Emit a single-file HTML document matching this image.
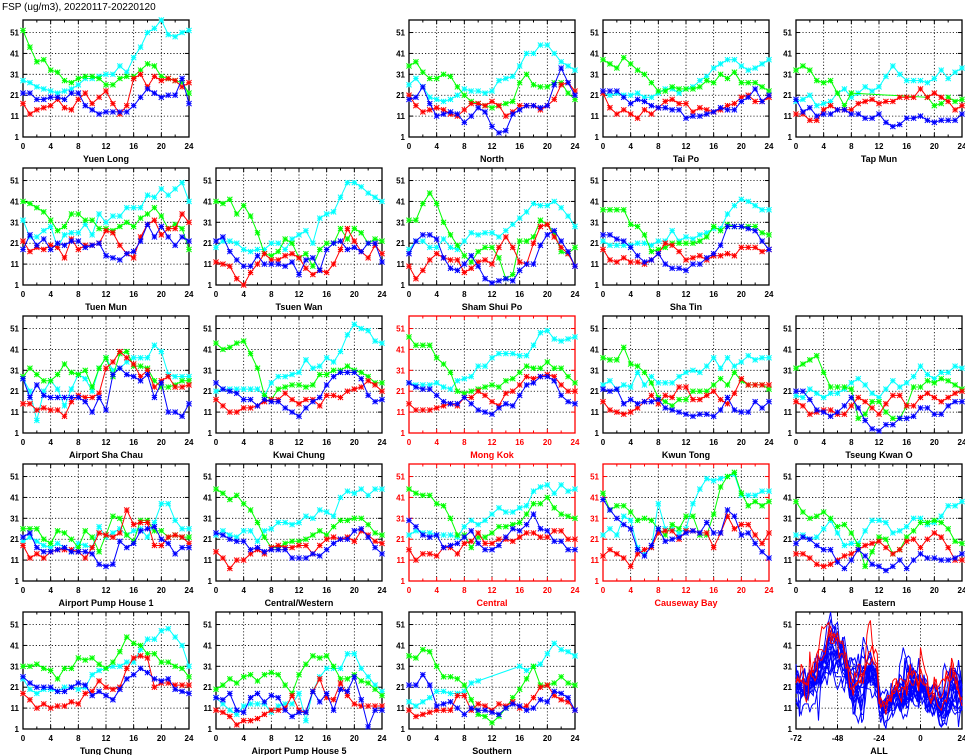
<!DOCTYPE html>
<html><head><meta charset="utf-8"><style>
html,body{margin:0;padding:0;background:#fff;}
svg{display:block;font-family:"Liberation Sans",sans-serif;}
</style></head><body>
<svg id="chart" width="965" height="755" viewBox="0 0 965 755" xmlns="http://www.w3.org/2000/svg">
<text x="2" y="10" font-size="10" fill="#000">FSP (ug/m3), 20220117-20220120</text>
</svg>
<script>
const stationNames = ["Yuen Long","North","Tai Po","Tap Mun","Tuen Mun","Tsuen Wan","Sham Shui Po","Sha Tin","Airport Sha Chau","Kwai Chung","Mong Kok","Kwun Tong","Tseung Kwan O","Airport Pump House 1","Central/Western","Central","Causeway Bay","Eastern","Tung Chung","Airport Pump House 5","Southern"];
const stationRow = [0,0,0,0,1,1,1,1,2,2,2,2,2,3,3,3,3,3,4,4,4];
const stationCol = [0,2,3,4,0,1,2,3,0,1,2,3,4,0,1,2,3,4,0,1,2];
const roadsideStations = ["Mong Kok","Central","Causeway Bay"];
const yTicks = [1,11,21,31,41,51];
const xTicks = [0,4,8,12,16,20,24];
const allXTicks = [-72,-48,-24,0,24];
const N = null;
const redSeries = [
[17,12,14,15,16,19,15,14,19,22,17,20,23,17,12,16,29,31,25,30,28,29,28,25,27],
[21,16,13,14,15,14,12,11,14,17,17,16,18,16,11,13,16,16,16,14,16,19,26,27,23],
[22,15,12,14,12,10,14,12,15,18,19,17,17,13,15,14,13,14,16,17,20,21,18,18,20],
[12,12,9,9,14,16,14,14,14,17,18,19,17,18,18,20,20,20,24,20,22,20,18,14,16],
[22,17,19,18,20,19,14,23,18,20,20,21,27,26,20,16,14,24,30,32,25,28,28,35,31],
[12,11,10,4,1,7,11,16,13,13,15,16,14,9,6,8,7,11,18,28,22,17,14,20,16],
[10,4,8,13,16,14,13,13,7,9,12,13,11,19,24,19,12,11,21,29,30,24,19,16,10],
[18,13,12,14,12,12,11,13,16,21,20,17,13,14,15,13,15,15,16,15,19,19,19,17,18],
[15,15,12,13,12,12,9,16,19,18,18,20,32,35,40,37,34,28,31,23,26,28,23,23,24],
[17,14,11,11,13,13,14,16,17,17,20,17,15,17,17,14,19,19,18,21,22,23,26,24,21],
[15,12,12,12,13,14,15,14,18,18,21,19,16,14,20,21,24,28,27,28,29,28,24,21,21],
[16,12,11,10,11,13,16,19,15,19,18,23,23,17,17,19,21,17,15,20,27,24,24,24,24],
[16,14,10,11,12,12,10,10,14,18,16,13,10,15,19,19,14,14,18,20,18,16,18,20,21],
[18,12,14,12,15,16,16,16,15,12,17,24,23,22,24,35,28,29,29,18,18,22,23,22,19],
[15,12,7,11,11,14,16,14,17,18,17,17,18,18,14,18,21,22,21,22,20,25,23,20,19],
[16,11,14,14,13,17,17,14,19,20,24,19,19,21,21,20,22,24,24,22,22,25,25,21,21],
[13,16,14,12,8,14,16,17,24,25,25,21,25,25,24,24,17,24,32,26,28,28,23,19,24],
[14,14,12,9,8,9,11,13,14,16,18,19,20,17,14,16,20,21,17,21,24,22,17,11,11],
[18,15,11,13,11,12,12,14,13,18,19,24,21,20,21,30,35,36,35,21,23,23,22,22,22],
[10,9,7,3,5,5,6,8,10,10,11,17,10,9,19,25,16,15,23,17,13,12,12,12,12],
[10,7,8,9,10,10,10,17,17,10,13,12,10,13,12,14,11,12,16,21,22,17,15,14,10]
];
const greenSeries = [
[52,44,37,38,33,32,28,27,29,30,30,29,26,26,29,30,30,33,36,35,30,29,28,27,22],
[35,37,32,29,29,31,30,25,21,18,17,16,15,16,17,18,27,31,26,25,25,27,27,22,19],
[38,36,34,39,36,33,31,27,23,23,25,24,24,24,25,28,27,31,29,32,27,27,27,25,23],
[33,35,33,28,27,28,22,16,22,N,N,N,N,N,N,N,N,N,N,20,16,17,20,18,19],
[41,40,38,36,32,27,29,35,35,32,32,28,28,27,29,31,29,33,35,38,34,28,30,28,18],
[41,40,42,35,39,34,26,16,15,17,23,21,14,16,10,18,21,21,28,23,28,26,21,23,22],
[32,32,40,45,40,31,25,20,15,12,17,19,19,14,4,6,22,22,24,32,30,26,17,16,19],
[37,37,37,37,30,29,25,17,18,19,21,21,21,21,22,24,29,27,30,29,29,29,29,26,25],
[28,32,29,26,26,29,34,30,29,31,23,32,37,28,39,40,33,33,32,26,23,23,24,26,26],
[44,41,42,44,45,39,32,19,17,22,23,24,24,23,24,29,29,31,31,33,31,30,28,25,25],
[47,43,43,43,37,34,30,21,20,21,22,23,24,23,26,27,30,33,32,32,35,32,32,28,25],
[37,36,36,42,34,33,30,25,18,16,14,17,17,21,21,21,24,27,24,30,26,24,24,24,22],
[32,34,36,38,30,23,23,23,22,8,10,16,16,11,8,8,14,23,23,26,25,27,26,24,22],
[26,26,26,21,19,25,24,21,17,25,22,15,23,32,31,23,20,30,30,25,25,22,23,22,22],
[45,43,40,42,38,35,29,22,17,17,19,20,20,21,23,25,23,27,30,30,31,31,28,24,23],
[45,43,42,42,38,37,31,23,23,17,22,22,24,27,27,28,29,33,38,38,41,36,33,32,31],
[43,35,37,37,34,30,31,30,26,23,28,26,32,32,23,23,33,46,51,53,43,37,39,37,39],
[39,34,31,32,34,31,27,28,24,18,8,15,22,21,14,16,22,25,29,29,30,29,26,20,19],
[31,31,32,30,29,25,30,30,35,34,35,32,30,33,38,45,42,41,37,37,33,33,31,30,26],
[20,22,25,23,26,27,24,27,28,27,22,18,27,32,36,35,36,31,25,25,27,24,23,20,17],
[36,35,39,38,31,26,26,25,22,15,8,7,4,7,11,16,20,25,31,22,22,23,26,23,22]
];
const cyanSeries = [
[28,27,25,24,23,22,23,24,26,29,29,30,31,31,35,32,39,44,51,53,57,50,49,51,52],
[26,29,25,20,19,18,19,21,24,23,23,22,23,28,29,30,35,41,41,45,45,41,37,35,33],
[22,21,22,21,21,22,20,20,22,24,24,22,24,25,28,30,34,36,38,38,35,33,34,36,38],
[18,19,21,16,17,18,22,24,20,22,25,23,25,30,35,31,28,28,28,27,29,33,29,32,34],
[32,24,24,27,29,19,25,26,26,30,25,35,31,34,34,38,38,38,44,43,47,44,47,50,41],
[19,22,22,21,18,17,18,18,21,21,18,23,25,27,21,33,35,36,43,50,50,48,45,43,41],
[18,22,22,19,19,23,19,18,22,26,25,26,26,24,27,30,33,36,40,39,39,41,38,34,29],
[22,20,20,20,20,21,21,20,22,22,27,22,24,23,25,26,28,28,35,39,42,41,39,37,37],
[27,21,7,21,26,22,14,22,29,27,21,32,37,31,32,35,37,37,37,43,40,29,28,28,28],
[21,22,22,22,22,22,22,19,25,28,28,29,30,36,32,33,37,35,40,48,53,51,50,45,44],
[25,24,24,24,25,23,22,26,27,28,33,33,37,39,39,39,38,38,43,49,50,46,45,46,47],
[24,26,22,24,23,30,24,28,25,25,25,28,30,31,30,33,37,32,37,33,35,38,36,37,37],
[19,18,22,20,18,20,20,22,25,27,24,20,18,22,26,23,25,28,33,29,27,30,30,33,32],
[20,22,20,18,17,19,17,15,19,18,17,27,22,24,26,23,25,26,22,29,38,38,30,26,26],
[23,25,23,22,25,25,20,25,26,29,29,28,29,32,31,35,34,32,41,44,43,45,42,45,45],
[23,25,24,24,23,23,23,22,27,30,28,30,33,36,34,34,36,37,44,46,47,43,47,44,45],
[23,26,23,32,30,17,14,17,38,26,26,24,26,38,45,50,49,50,51,52,42,42,42,44,44],
[23,23,21,22,26,30,24,18,19,19,25,30,30,29,24,25,27,31,31,28,29,32,37,37,39],
[25,20,18,20,20,19,21,21,20,21,27,29,30,31,31,33,33,39,44,44,48,49,45,41,31],
[16,13,10,8,12,13,13,13,9,12,13,13,18,5,19,26,30,30,30,37,37,30,26,22,19],
[14,12,14,16,19,19,18,18,19,23,24,N,N,N,N,N,31,29,31,32,37,42,39,38,36]
];
const blueSeries = [
[22,22,19,19,20,20,19,22,22,16,14,12,13,13,13,13,16,20,24,22,20,21,21,29,17],
[19,20,25,17,11,12,13,12,8,11,15,13,6,3,4,12,14,16,16,15,16,26,34,27,21],
[23,23,23,20,17,19,18,16,15,15,14,14,10,11,11,12,13,15,14,14,18,20,24,18,21],
[19,13,15,11,12,12,14,14,12,12,10,10,12,8,6,7,10,10,11,9,8,9,9,9,12],
[18,25,20,23,18,21,20,22,22,19,20,21,15,14,13,16,17,22,30,24,29,24,20,24,22],
[22,24,17,13,10,10,15,11,11,11,10,12,6,13,14,8,18,21,22,18,19,17,21,21,12],
[16,22,25,25,23,14,9,8,11,15,10,4,2,3,4,3,8,11,11,20,25,27,22,17,10],
[25,25,23,22,19,15,12,13,16,11,9,9,8,11,11,14,16,20,29,29,29,28,27,22,18],
[27,18,24,19,18,18,18,18,18,16,11,18,12,29,32,29,28,26,29,18,25,11,11,9,15],
[25,22,21,20,17,17,14,17,16,16,13,11,9,13,16,18,24,28,30,30,30,27,19,16,17],
[25,23,22,22,19,16,15,15,18,15,12,11,10,13,15,14,19,24,25,28,28,26,19,16,15],
[22,21,22,15,17,15,16,16,17,13,12,11,10,9,10,10,9,12,18,12,11,11,16,13,16],
[21,21,17,12,11,9,11,14,18,13,7,3,2,5,5,8,8,9,13,13,10,10,14,16,16],
[22,24,17,15,15,16,17,15,15,15,14,9,8,9,20,17,19,25,26,27,21,19,14,17,17],
[24,23,21,20,20,16,17,15,16,16,16,12,12,12,14,13,16,19,21,21,25,26,22,17,14],
[30,27,23,22,23,17,18,19,22,25,19,16,16,18,22,26,25,28,33,26,25,20,20,16,16],
[40,35,31,28,26,16,13,18,26,20,21,22,24,25,24,29,24,24,35,32,23,24,19,15,12],
[19,22,21,18,16,16,10,7,11,16,13,9,8,6,8,11,7,11,14,12,12,11,11,12,14],
[26,23,21,21,21,19,19,21,23,22,17,19,17,15,20,25,27,30,28,25,24,25,20,19,18],
[16,15,18,10,9,16,18,14,17,16,10,7,9,9,19,14,18,10,20,19,26,15,2,10,10],
[22,22,27,22,12,13,14,11,8,11,10,10,9,8,11,13,12,10,11,15,14,19,18,16,10]
];

const svg = document.getElementById('chart');
const NS = 'http://www.w3.org/2000/svg';
const colX = [23,216,409,603,796];
const rowY = [20,168,316,464,612];
const PW = 166, PH = 117, YMIN = 1, YMAX = 57;
function mk(tag, attrs, parent){
  const e = document.createElementNS(NS, tag);
  for (const k in attrs) e.setAttribute(k, attrs[k]);
  (parent||svg).appendChild(e);
  return e;
}
function yScale(top, v){ return top + (YMAX - v) * PH / (YMAX - YMIN); }

function drawFrame(g, x0, y0, xmin, xmax, ticks, minorStep, color){
  const xs = v => x0 + (v - xmin) * PW / (xmax - xmin);
  // grid
  ticks.forEach(t => {
    if (t === xmin || t === xmax) return;
    const gl = mk('line', {x1:xs(t), x2:xs(t), y1:y0, y2:y0+PH, stroke:'#000', 'stroke-width':0.8, 'stroke-dasharray':'1.2,2'}, g);
    
    
  });
  yTicks.forEach(t => {
    const y = yScale(y0, t);
    if (t !== YMIN) {
      const gl = mk('line', {x1:x0, x2:x0+PW, y1:y, y2:y, stroke:'#000', 'stroke-width':0.8, 'stroke-dasharray':'1.2,2'}, g);
      
      
    }
    mk('line', {x1:x0, x2:x0+4, y1:y, y2:y, stroke:color, 'stroke-width':1}, g);
    mk('line', {x1:x0+PW-4, x2:x0+PW, y1:y, y2:y, stroke:color, 'stroke-width':1}, g);
    const tl = mk('text', {x:x0-4, y:y+3, 'text-anchor':'end', 'font-size':8, 'font-weight':'bold', fill:color}, g);
    tl.textContent = t;
    
    
  });
  for (let t = xmin; t <= xmax; t += minorStep) {
    const major = ticks.indexOf(t) >= 0;
    const L = major ? 4 : 2.5;
    mk('line', {x1:xs(t), x2:xs(t), y1:y0+PH, y2:y0+PH-L, stroke:color, 'stroke-width':1}, g);
    mk('line', {x1:xs(t), x2:xs(t), y1:y0, y2:y0+L, stroke:color, 'stroke-width':1}, g);
  }
  ticks.forEach(t => {
    const tl = mk('text', {x:xs(t), y:y0+PH+12, 'text-anchor':'middle', 'font-size':8, 'font-weight':'bold', fill:color}, g);
    tl.textContent = t;
    
    
  });
  const fr = mk('rect', {x:x0, y:y0, width:PW, height:PH, fill:'none', stroke:color, 'stroke-width':1.3}, g);
  
  
  return xs;
}

function drawSeries(g, xs, y0, vals, color, markers, offset, width){
  let d = '';
  let started = false;
  vals.forEach((v, i) => {
    if (v === null) return;
    const x = xs(i + offset), y = yScale(y0, v);
    d += (started ? 'L' : 'M') + x.toFixed(1) + ',' + y.toFixed(1);
    started = true;
  });
  const p = mk('path', {d:d, fill:'none', stroke:color, 'stroke-width':width}, g);
  
  
  if (!markers) return;
  vals.forEach((v, i) => {
    if (v === null) return;
    const x = xs(i + offset), y = yScale(y0, v), r = 2.6;
    const m = mk('path', {d:`M${x-r},${y-r}L${x+r},${y+r}M${x-r},${y+r}L${x+r},${y-r}M${x-r},${y}L${x+r},${y}M${x},${y-r}L${x},${y+r}`, stroke:color, 'stroke-width':1, fill:'none'}, g);
    
    
  });
}

stationNames.forEach((name, s) => {
  const x0 = colX[stationCol[s]], y0 = rowY[stationRow[s]];
  const color = roadsideStations.indexOf(name) >= 0 ? '#ff0000' : '#000000';
  const g = mk('g', {});
  
  
  const xs = drawFrame(g, x0, y0, 0, 24, xTicks, 2, color);
  drawSeries(g, xs, y0, cyanSeries[s], '#00ffff', true, 0, 1);
  drawSeries(g, xs, y0, greenSeries[s], '#00ff00', true, 0, 1);
  drawSeries(g, xs, y0, redSeries[s], '#ff0000', true, 0, 1);
  drawSeries(g, xs, y0, blueSeries[s], '#0000ff', true, 0, 1);
  const lab = mk('text', {x:x0+PW/2, y:y0+PH+25, 'text-anchor':'middle', 'font-size':9, 'font-weight':'bold', fill:color}, g);
  lab.textContent = name;
  
  
});

// ALL panel: 4 days concatenated per station
(function(){
  const x0 = colX[4], y0 = rowY[4];
  const g = mk('g', {});
  
  
  const xs = drawFrame(g, x0, y0, -72, 24, allXTicks, 8, '#000000');
  const order = stationNames.map((n, i) => i).sort((a, b) =>
    (roadsideStations.indexOf(stationNames[a]) >= 0) - (roadsideStations.indexOf(stationNames[b]) >= 0));
  order.forEach(s => {
    const col = roadsideStations.indexOf(stationNames[s]) >= 0 ? '#ff0000' : '#0000ff';
    const seq = cyanSeries[s].slice(0, 24).concat(greenSeries[s].slice(0, 24), redSeries[s].slice(0, 24), blueSeries[s]);
    drawSeries(g, xs, y0, seq, col, false, -72, 1);
  });
  const lab = mk('text', {x:x0+PW/2, y:y0+PH+25, 'text-anchor':'middle', 'font-size':9, 'font-weight':'bold', fill:'#000'}, g);
  lab.textContent = 'ALL';
  
  
})();
</script>
</body></html>
